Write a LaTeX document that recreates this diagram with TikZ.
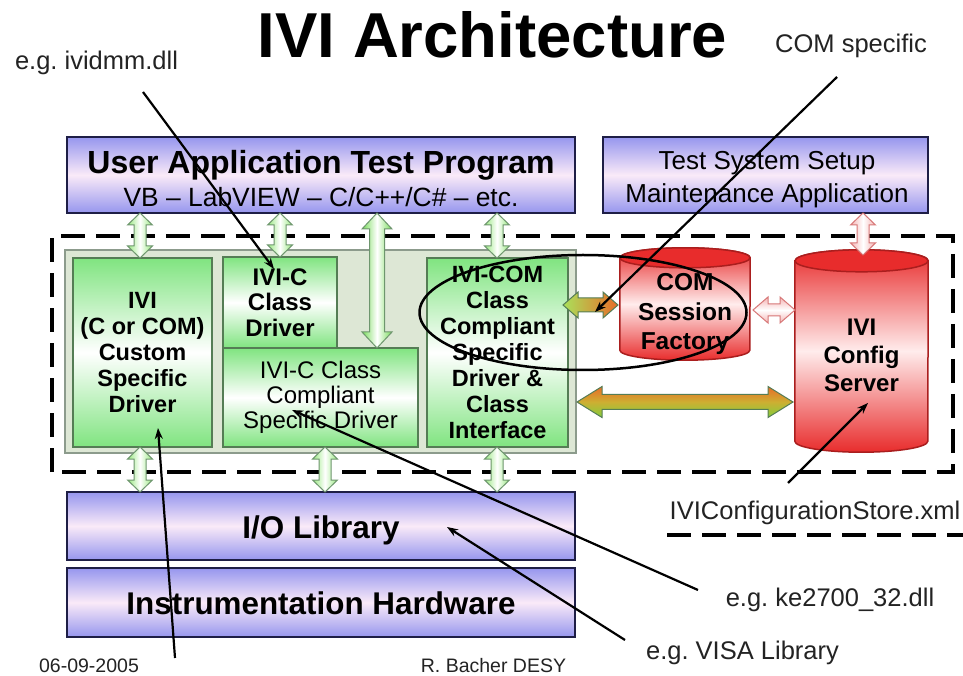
\documentclass[tikz,border=0pt]{standalone}
\usepackage{fontspec}
\setmainfont{Liberation Sans}
\usetikzlibrary{arrows.meta}
\definecolor{lav}{RGB}{150,150,238}
\definecolor{lavmid}{RGB}{250,234,248}
\definecolor{lavline}{RGB}{30,30,70}
\definecolor{gfill}{RGB}{128,228,128}
\definecolor{gline}{RGB}{85,125,85}
\definecolor{panelfill}{RGB}{221,231,213}
\definecolor{panelline}{RGB}{140,155,140}
\definecolor{rbody}{RGB}{232,44,44}
\definecolor{rmid}{RGB}{255,236,236}
\definecolor{rline}{RGB}{170,30,30}
\definecolor{agreen}{RGB}{150,232,125}
\definecolor{agreenb}{RGB}{120,220,90}
\definecolor{aline}{RGB}{110,150,110}
\definecolor{pinkline}{RGB}{215,120,120}
\definecolor{pinkfill}{RGB}{245,180,180}
\definecolor{orng}{RGB}{232,108,40}
\definecolor{lgrn}{RGB}{130,205,60}
\definecolor{ymid}{RGB}{205,175,50}
\definecolor{ylgrn}{RGB}{170,225,90}
\definecolor{noteink}{RGB}{35,35,35}
% vertical double block arrow: style, x, ytop, ybottom, half shaft, half head, head length
\newcommand\dblV[7]{%
  \path[#1] (#2,#3) -- ({#2+#6},{#3-#7}) -- ({#2+#5},{#3-#7}) -- ({#2+#5},{#4+#7})
    -- ({#2+#6},{#4+#7}) -- (#2,#4) -- ({#2-#6},{#4+#7}) -- ({#2-#5},{#4+#7})
    -- ({#2-#5},{#3-#7}) -- ({#2-#6},{#3-#7}) -- cycle;}
% horizontal double block arrow: style, y, xleft, xright, half shaft, half head, head length
\newcommand\dblH[7]{%
  \path[#1] (#3,#2) -- ({#3+#7},{#2+#6}) -- ({#3+#7},{#2+#5}) -- ({#4-#7},{#2+#5})
    -- ({#4-#7},{#2+#6}) -- (#4,#2) -- ({#4-#7},{#2-#6}) -- ({#4-#7},{#2-#5})
    -- ({#3+#7},{#2-#5}) -- ({#3+#7},{#2-#6}) -- cycle;}
\begin{document}
\begin{tikzpicture}[x=1pt,y=1pt,
  lavbox/.style={draw=lavline, line width=2.5pt, top color=lav, bottom color=lav, middle color=lavmid, inner sep=0pt},
  gbox/.style={draw=gline, line width=1.5pt, top color=gfill, bottom color=gfill, middle color=white, align=center, inner sep=0pt},
  panel/.style={draw=panelline, line width=1.5pt, fill=panelfill, inner sep=0pt},
  boxtext/.style={anchor=base, inner sep=0pt},
  note/.style={font=\fontsize{25.5}{30}\selectfont\frenchspacing, text=noteink, inner sep=0pt, anchor=base},
  foot/.style={font=\fontsize{19.5}{22}\selectfont\frenchspacing, text=noteink, inner sep=0pt, anchor=base},
  ptr/.style={line width=2.2pt, -{Stealth[length=11pt,width=8pt]}},
  dashframe/.style={line width=4pt, dash pattern=on 24pt off 11pt},
  cylbody/.style={draw=rline, line width=1.5pt, top color=rbody, bottom color=rbody, middle color=rmid},
  cyltop/.style={draw=rline, line width=1.5pt, fill=rbody},
  cyltext/.style={align=center, inner sep=0pt},
  garrow/.style={draw=aline, line width=1pt, left color=agreen, right color=agreen, middle color=white},
  gbigarrow/.style={draw=aline, line width=1pt, left color=agreenb, right color=agreenb, middle color=white},
  parrow/.style={draw=pinkline, line width=1pt, left color=pinkfill, right color=pinkfill, middle color=white},
  phArrow/.style={draw=pinkline, line width=1pt, top color=pinkfill, bottom color=pinkfill, middle color=white},
  goarrow/.style={draw=gline, line width=1pt, left color=ylgrn, right color=orng},
  bigharrow/.style={draw=gline, line width=1pt, top color=orng, bottom color=lgrn, middle color=ymid}
]
\fill[white] (0,0) rectangle (963,675);
\useasboundingbox (0,0) rectangle (963,675);

% title
\node[inner sep=0pt, anchor=base, font=\fontsize{63.5}{70}\selectfont\bfseries] (title) at (492.5,617) {IVI Architecture};

% top boxes
\node[lavbox, minimum width=508pt, minimum height=76pt] (uap) at (321,500) {};
\node[boxtext, font=\fontsize{32}{36}\selectfont\bfseries] (uapt) at (321,501.5) {User Application Test Program};
\node[boxtext, font=\fontsize{26.4}{30}\selectfont] (uaps) at (321,468.5) {VB – LabVIEW – C/C++/C\# – etc.};
\node[lavbox, minimum width=325pt, minimum height=76pt] (tss) at (765.5,500) {};
\node[boxtext, font=\fontsize{26}{30}\selectfont] (tsst) at (767,505.7) {Test System Setup};
\node[boxtext, font=\fontsize{26}{30}\selectfont] (tssm) at (767,472.7) {Maintenance Application};

% dashed frame
\draw[dashframe] (52,203) rectangle (953,439);
\draw[dashframe] (667,140) -- (963,140);

% driver panel
\node[panel, minimum width=511pt, minimum height=203pt] (panel) at (320.5,323.5) {};
\node[gbox, minimum width=139pt, minimum height=189pt, font=\fontsize{23.5}{26}\selectfont\bfseries] (custom) at (142.5,322.5) {IVI\\(C or COM)\\Custom\\Specific\\Driver};
\node[gbox, minimum width=114pt, minimum height=91pt, font=\fontsize{24}{25.5}\selectfont\bfseries] (icd) at (280,372.5) {IVI-C\\Class\\Driver};
\node[gbox, minimum width=195pt, minimum height=99pt, font=\fontsize{24}{25}\selectfont] (iccs) at (320.5,277.5) {IVI-C Class\\Compliant\\Specific Driver};
\node[gbox, minimum width=141pt, minimum height=189pt, font=\fontsize{23.5}{26}\selectfont\bfseries] (icom) at (497.5,322.5) {IVI-COM\\Class\\Compliant\\Specific\\Driver \&\\Class\\Interface};

% COM session factory cylinder
\node[inner sep=0pt, minimum width=130pt, minimum height=92pt] (csf) at (685,371) {};
\path[cylbody] (csf.north west) -- (csf.south west) arc[start angle=180,end angle=360,x radius=65,y radius=10] -- (csf.north east) arc[start angle=0,end angle=180,x radius=65,y radius=10] -- cycle;
\draw[cyltop] (csf.north) ellipse[x radius=65, y radius=10];
\node[cyltext, font=\fontsize{24.5}{29.5}\selectfont\bfseries] (csft) at (685,361) {COM\\Session\\Factory};

% IVI config server cylinder
\node[inner sep=0pt, minimum width=133pt, minimum height=180pt] (cfg) at (861.5,324) {};
\path[cylbody] (cfg.north west) -- (cfg.south west) arc[start angle=180,end angle=360,x radius=66.5,y radius=11] -- (cfg.north east) arc[start angle=0,end angle=180,x radius=66.5,y radius=11] -- cycle;
\draw[cyltop] (cfg.north) ellipse[x radius=66.5, y radius=11];
\node[cyltext, font=\fontsize{24}{28}\selectfont\bfseries] (cfgt) at (861.5,320) {IVI\\Config\\Server};

% bottom boxes
\node[lavbox, minimum width=508pt, minimum height=68pt] (io) at (321,149) {};
\node[boxtext, font=\fontsize{31.4}{36}\selectfont\bfseries] (iot) at (321,136.8) {I/O Library};
\node[lavbox, minimum width=508pt, minimum height=69pt] (hw) at (321,72.5) {};
\node[boxtext, font=\fontsize{31.4}{36}\selectfont\bfseries] (hwt) at (321,60.8) {Instrumentation Hardware};

% block arrows
\dblV{garrow}{140}{462}{417}{6}{12.5}{12}
\dblV{garrow}{280}{462}{418}{6}{12.5}{12}
\dblV{garrow}{497}{462}{417}{6}{12.5}{12}
\dblV{gbigarrow}{377}{462}{327}{7.5}{15}{16}
\dblV{parrow}{863}{462}{420}{6}{12.5}{12}
\dblV{garrow}{140}{228}{183}{6}{12.5}{12}
\dblV{garrow}{325}{228}{183}{6}{12.5}{12}
\dblV{garrow}{497}{228}{183}{6}{12.5}{12}
\dblH{goarrow}{370}{563}{618}{7}{13}{15}
\dblH{phArrow}{365}{753}{795}{6}{13}{15}
\dblH{bigharrow}{273}{577}{793}{7.5}{15.5}{25}

% highlight ellipse
\draw[line width=2.5pt] (583,362.5) ellipse[x radius=163.5, y radius=57.5];

% annotations
\node[note] (ldll) at (96.5,605) {e.g. ividmm.dll};
\node[note] (lcom) at (851,622.5) {COM specific};
\node[note] (lcfg) at (815,156) {IVIConfigurationStore.xml};
\node[note] (lke) at (830,69) {e.g. ke2700\_32.dll};
\node[note] (lvisa) at (742.5,16) {e.g. VISA Library};
\node[foot] (date) at (89,3) {06-09-2005};
\node[foot] (auth) at (493.5,3) {R. Bacher DESY};

\coordinate (a1s) at (143,583);
\coordinate (a1e) at (274,406);
\coordinate (a2s) at (837,598);
\coordinate (a2e) at (595,363);
\coordinate (a3s) at (175,17);
\coordinate (a3e) at (158,247);
\coordinate (a4s) at (698,85);
\coordinate (a4e) at (292,265);
\coordinate (a5s) at (625,35);
\coordinate (a5e) at (447,148);
\coordinate (a6s) at (788,192);
\coordinate (a6e) at (868,272);
\draw[ptr] (a1s) -- (a1e);
\draw[ptr] (a2s) -- (a2e);
\draw[ptr] (a3s) -- (a3e);
\draw[ptr] (a4s) -- (a4e);
\draw[ptr] (a5s) -- (a5e);
\draw[ptr] (a6s) -- (a6e);
\end{tikzpicture}
\end{document}
